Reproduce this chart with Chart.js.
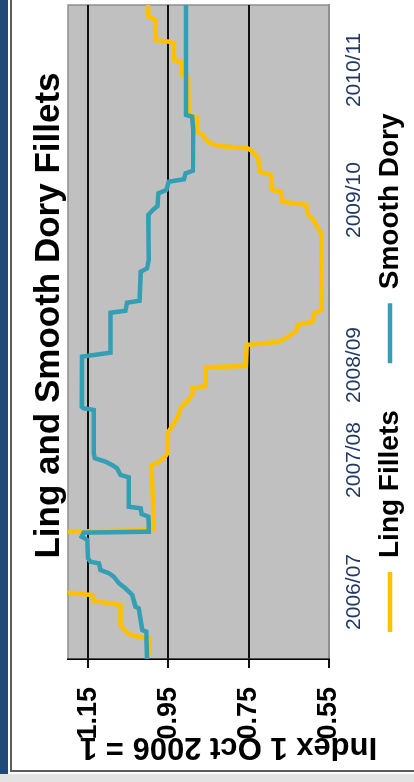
<!DOCTYPE html>
<html>
<head>
<meta charset="utf-8">
<script src="https://cdn.jsdelivr.net/npm/chart.js@4.4.1/dist/chart.umd.min.js"></script>
<style>
  html, body { margin: 0; padding: 0; width: 414px; height: 782px; overflow: hidden; background: #fff; }
  /* the chart is drawn landscape and turned a quarter turn to the left */
  #page {
    position: absolute; left: 0; top: 782px;
    width: 782px; height: 414px;
    transform-origin: 0 0; transform: rotate(-90deg);
    background: #fff; overflow: hidden;
  }
  .band-grey { position: absolute; left: 0; top: 0; width: 8px; height: 414px; background: #e3e3e3; }
  .band-blue { position: absolute; left: 8px; top: 0; width: 774px; height: 8px; background: #1f4a78; }
  .frame-h   { position: absolute; left: 11px; top: 10px; width: 771px; height: 2px; background: #5c5c5c; }
  .frame-v   { position: absolute; left: 10px; top: 10px; width: 2px; height: 404px; background: #5c5c5c; }
  #wrap { position: absolute; left: 12px; top: 12px; width: 770px; height: 402px; }
</style>
</head>
<body>
<div id="page">
  <div class="band-grey"></div>
  <div class="band-blue"></div>
  <div class="frame-h"></div>
  <div class="frame-v"></div>
  <div id="wrap"><canvas id="chart"></canvas></div>
</div>
<script>
/* time position in months from the start of the series, index value (1 Oct 2006 = 1) */
const YEAR_LABELS = ['2006/07', '2007/08', '2008/09', '2009/10', '2010/11'];
const YEAR_POS    = [5.74, 17.04, 25.18, 39.30, 50.44];
const VALUE_TICKS = [0.55, 0.75, 0.95, 1.15];

const LING_T = [0.34, 1.77, 1.91, 2.14, 2.48, 2.83, 4.62, 4.99, 5.48, 5.99, 10.83, 11.05, 16.61, 16.81,
  17.38, 17.61, 19.38, 20.18, 20.75, 21.47, 21.90, 22.33, 22.75, 23.18, 23.38, 24.98, 25.09, 26.89,
  27.17, 27.66, 28.11, 28.60, 28.88, 29.60, 29.88, 36.45, 37.65, 38.11, 38.88, 39.16, 40.02, 40.16,
  41.45, 41.73, 42.88, 43.53, 43.73, 43.93, 44.16, 44.50, 44.87, 45.15, 46.39, 46.50, 49.86, 50.01,
  51.15, 51.29, 52.72, 52.86, 53.00, 54.72, 55.01, 56];
const LING_V = [0.997, 0.997, 1.024, 1.049, 1.058, 1.069, 1.069, 1.136, 1.140, 1.30, 1.30, 0.986, 0.992, 0.975,
  0.957, 0.953, 0.951, 0.936, 0.926, 0.920, 0.909, 0.897, 0.889, 0.891, 0.857, 0.857, 0.757, 0.755,
  0.674, 0.649, 0.631, 0.629, 0.591, 0.587, 0.568, 0.570, 0.590, 0.604, 0.606, 0.666, 0.670, 0.691,
  0.695, 0.723, 0.726, 0.743, 0.753, 0.824, 0.845, 0.857, 0.864, 0.878, 0.878, 0.899, 0.901, 0.916,
  0.917, 0.936, 0.936, 0.949, 0.982, 0.982, 1.000, 1.000];

const DORY_T = [0, 2.34, 2.48, 4.34, 4.48, 5.48, 6.05, 6.48, 7.05, 7.34, 7.62, 8.19, 8.33, 8.62, 10.19,
  10.47, 10.82, 10.90, 11.62, 12.19, 12.42, 12.90, 13.04, 15.56, 15.76, 16.33, 16.61, 16.90, 17.19,
  17.61, 21.32, 21.47, 21.60, 25.89, 26.23, 29.65, 29.82, 30.51, 30.68, 33.16, 33.45, 34.17, 38.02,
  38.45, 38.79, 39.88, 40.16, 40.87, 41.08, 41.59, 41.81, 45.30, 46.44, 46.58, 56];
const DORY_V = [1.003, 1.005, 1.015, 1.024, 1.032, 1.040, 1.057, 1.073, 1.086, 1.098, 1.119, 1.123, 1.144, 1.150, 1.152,
  1.166, 1.161, 0.999, 0.999, 1.000, 1.017, 1.019, 1.049, 1.049, 1.069, 1.078, 1.090, 1.107, 1.133,
  1.136, 1.136, 1.161, 1.166, 1.165, 1.094, 1.094, 1.057, 1.053, 1.022, 1.019, 1.003, 0.999, 1.000,
  0.989, 0.977, 0.975, 0.955, 0.949, 0.911, 0.907, 0.889, 0.888, 0.891, 0.906, 0.906];

const LING_COLOR = '#ffc000';
const DORY_COLOR = '#339fb5';

const pts = (t, v) => t.map((x, i) => ({ x, y: v[i] }));

/* grey plot background + thin grey frame */
const plotBg = {
  id: 'plotBg',
  beforeDraw(chart) {
    const { ctx, chartArea: a } = chart;
    ctx.save();
    ctx.fillStyle = '#c0c0c0';
    ctx.fillRect(a.left, a.top, a.width, a.height);
    ctx.strokeStyle = '#8e8e8e';
    ctx.lineWidth = 1.5;
    ctx.strokeRect(a.left, a.top, a.width, a.height);
    ctx.restore();
  }
};

/* title and legend are not centred on the canvas in the original */
const nudge = {
  id: 'nudge',
  afterLayout(chart) {
    chart.titleBlock.left += 72; chart.titleBlock.right += 72;
    chart.legend.left += 91;     chart.legend.right += 91;
  }
};

/* value axis title, placed like the original (off-centre) */
const yTitle = {
  id: 'yTitle',
  afterDraw(chart) {
    const { ctx } = chart;
    ctx.save();
    ctx.translate(23.5, 216.5);
    ctx.rotate(-Math.PI / 2);
    ctx.font = 'bold 31px "Liberation Sans", Arial, sans-serif';
    ctx.fillStyle = '#000';
    ctx.textAlign = 'center';
    ctx.textBaseline = 'middle';
    ctx.fillText('Index 1 Oct 2006 = 1', 0, 0);
    ctx.restore();
  }
};

new Chart(document.getElementById('chart'), {
  type: 'line',
  data: {
    datasets: [
      { label: 'Ling Fillets', data: pts(LING_T, LING_V), borderColor: LING_COLOR, backgroundColor: LING_COLOR,
        borderWidth: 4.5, pointRadius: 0, tension: 0, clip: 0, order: 1 },
      { label: 'Smooth Dory', data: pts(DORY_T, DORY_V), borderColor: DORY_COLOR, backgroundColor: DORY_COLOR,
        borderWidth: 4.5, pointRadius: 0, tension: 0, clip: 0, order: 0 }
    ]
  },
  options: {
    responsive: true,
    maintainAspectRatio: false,
    animation: false,
    layout: { padding: { left: 0, right: 5, top: 0, bottom: 0 } },
    plugins: {
      tooltip: { enabled: false },
      title: {
        display: true,
        text: 'Ling and Smooth Dory Fillets',
        color: '#000',
        font: { family: '"Liberation Sans", Arial, sans-serif', size: 35, weight: 'bold', lineHeight: 1 },
        padding: { top: 20, bottom: 1 }
      },
      legend: {
        position: 'bottom',
        align: 'start',
        labels: {
          usePointStyle: true,
          pointStyle: 'line',
          pointStyleWidth: 60,
          padding: 47,
          color: '#000',
          font: { family: '"Liberation Sans", Arial, sans-serif', size: 28, weight: 'bold' },
          sort: (a, b) => a.datasetIndex - b.datasetIndex
        }
      }
    },
    scales: {
      x: {
        type: 'linear',
        min: 0,
        max: 56,
        afterBuildTicks: ax => { ax.ticks = YEAR_POS.map(v => ({ value: v })); },
        afterFit: ax => { ax.height = 0; },
        grid: { display: false, drawTicks: false },
        border: { display: true, color: '#8e8e8e', width: 1.5 },
        ticks: {
          mirror: true,
          padding: -37.6,
          maxRotation: 0,
          autoSkip: false,
          color: '#203864',
          font: { family: '"Liberation Sans", Arial, sans-serif', size: 21 },
          callback: (v, i) => YEAR_LABELS[i]
        }
      },
      y: {
        min: 0.55,
        max: 1.2,
        afterBuildTicks: ax => { ax.ticks = VALUE_TICKS.map(v => ({ value: v })); },
        afterFit: ax => { ax.width = 111; },
        grid: {
          color: c => c.tick && c.tick.value === 0.55 ? '#8e8e8e' : '#111',
          tickColor: '#111',
          lineWidth: 2,
          tickLength: 9
        },
        border: { color: '#000', width: 1.5 },
        ticks: {
          padding: 19,
          color: '#000',
          font: { family: '"Liberation Sans", Arial, sans-serif', size: 27, weight: 'bold' },
          callback: v => v.toFixed(2)
        }
      }
    }
  },
  plugins: [plotBg, nudge, yTitle]
});
</script>
</body>
</html>
